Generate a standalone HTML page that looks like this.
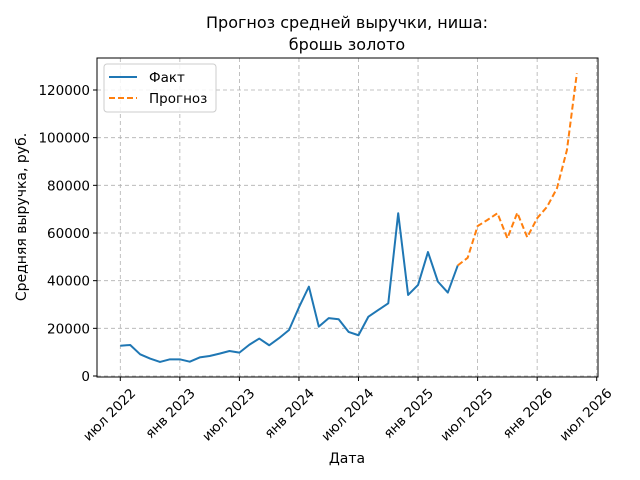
<!DOCTYPE html>
<html><head><meta charset="utf-8"><style>
body{margin:0;background:#fff;}
svg{display:block;font-family:"DejaVu Sans","Liberation Sans",sans-serif;}
</style></head><body>
<svg id="chart" width="640" height="480" viewBox="0 0 640 480">
<rect width="640" height="480" fill="#fff"/>
<text x="347" y="28" text-anchor="middle" font-size="16" fill="#000">Прогноз средней выручки, ниша:</text>
<text x="347" y="50" text-anchor="middle" font-size="16" fill="#000">брошь золото</text>
<g id="grid"></g><g id="series"></g><g id="axes"></g>
<text x="347" y="463" text-anchor="middle" font-size="14">Дата</text>
<text transform="translate(26,217) rotate(-90)" text-anchor="middle" font-size="14">Средняя выручка, руб.</text>
<g>
<rect x="104" y="64" width="112" height="48" rx="3" fill="#fff" fill-opacity="0.85" stroke="#ccc"/>
<line x1="109" y1="77" x2="137" y2="77" stroke="#1f77b4" stroke-width="2"/>
<text x="149" y="82" font-size="13.5">Факт</text>
<line x1="109" y1="98" x2="137" y2="98" stroke="#ff7f0e" stroke-width="2" stroke-dasharray="6,3"/>
<text x="149" y="103" font-size="13.5">Прогноз</text>
</g>
</svg>
<script>
// monthly values starting Jul 2022 (index 0)
const factValues=[12700,13000,9100,7300,5900,7000,7000,6000,7800,8400,9400,10500,9800,13100,15700,12900,15900,19300,28800,37500,20700,24300,23800,18500,17100,24900,27700,30500,68300,34000,38200,52000,39600,35000,46400];
const forecastValues=[46400,49600,62900,65500,68300,57800,68500,58200,66200,71000,78800,94800,127000];
const forecastStart=34;
const yTicks=[0,20000,40000,60000,80000,100000,120000];
const xTickMonths=[0,6,12,18,24,30,36,42,48];
const xTickLabels=["июл 2022","янв 2023","июл 2023","янв 2024","июл 2024","янв 2025","июл 2025","янв 2026","июл 2026"];

const L=97,R=598,T=58,B=377;
const xs=m=>120.3+m*(596.7-120.3)/48;
const ys=v=>376-v*(376-90)/120000;
const NS="http://www.w3.org/2000/svg";
function mk(tag,attrs,parent){const e=document.createElementNS(NS,tag);for(const k in attrs)e.setAttribute(k,attrs[k]);parent.appendChild(e);return e;}
const grid=document.getElementById('grid'),axes=document.getElementById('axes'),series=document.getElementById('series');
yTicks.forEach(v=>{
  const y=ys(v);
  const g=mk('line',{x1:L,x2:R,y1:y,y2:y,stroke:'#b0b0b0','stroke-width':0.8,'stroke-dasharray':'4,3'},grid);
  
  
  mk('line',{x1:L-4,x2:L,y1:y,y2:y,stroke:'#000'},axes);
  const t=mk('text',{x:L-7,y:y+5,'text-anchor':'end','font-size':13.5},axes);
  t.textContent=v;
  
  
});
xTickMonths.forEach((m,i)=>{
  const x=xs(m);
  const g=mk('line',{x1:x,x2:x,y1:T,y2:B,stroke:'#b0b0b0','stroke-width':0.8,'stroke-dasharray':'4,3'},grid);
  
  
  mk('line',{x1:x,x2:x,y1:B,y2:B+4,stroke:'#000'},axes);
  const t=mk('text',{transform:`translate(${x+16},${B+17}) rotate(-45)`,'text-anchor':'end','font-size':13.5},axes);
  t.textContent=xTickLabels[i];
  
  
});
const fr=mk('rect',{x:L,y:T,width:R-L,height:B-T,fill:'none',stroke:'#000','stroke-width':1},axes);


const p1=mk('polyline',{points:factValues.map((v,i)=>xs(i)+','+ys(v)).join(' '),fill:'none',stroke:'#1f77b4','stroke-width':2,'stroke-linejoin':'round'},series);


const p2=mk('polyline',{points:forecastValues.map((v,i)=>xs(forecastStart+i)+','+ys(v)).join(' '),fill:'none',stroke:'#ff7f0e','stroke-width':2,'stroke-dasharray':'6,3'},series);


</script>
</body></html>
